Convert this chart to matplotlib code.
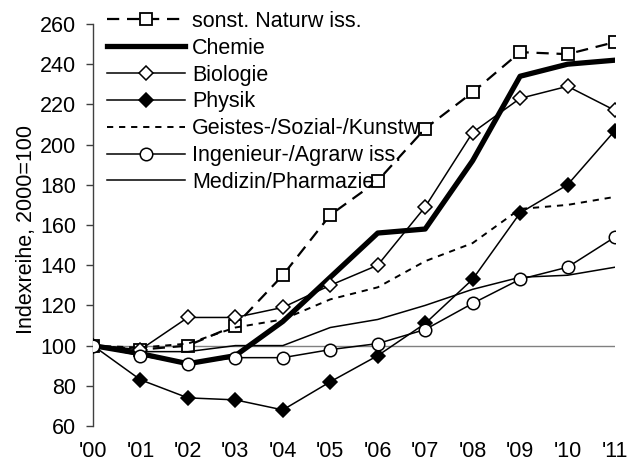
import matplotlib
matplotlib.use("Agg")
import matplotlib.pyplot as plt

years = ["'00", "'01", "'02", "'03", "'04", "'05", "'06", "'07", "'08", "'09", "'10", "'11"]
sonst = [100, 98, 100, 110, 135, 165, 182, 208, 226, 246, 245, 251]
chemie = [100, 96, 91, 95, 112, 134, 156, 158, 192, 234, 240, 242]
biologie = [100, 98, 114, 114, 119, 130, 140, 169, 206, 223, 229, 217]
physik = [100, 83, 74, 73, 68, 82, 95, 111, 133, 166, 180, 207]
geistes = [100, 99, 101, 109, 113, 123, 129, 142, 151, 168, 170, 174]
ingenieur = [100, 95, 91, 94, 94, 98, 101, 108, 121, 133, 139, 154]
medizin = [100, 97, 97, 100, 100, 109, 113, 120, 128, 134, 135, 139]
yticks = list(range(60, 261, 20))

plt.rcParams['font.family'] = ['Liberation Sans', 'DejaVu Sans']
fs = 15.5

fig = plt.figure(figsize=(6.31, 4.63), dpi=100)
ax = fig.add_axes([93/631, 1-426/463, (615-93)/631, (426-24)/463])
x = list(range(len(years)))

ax.axhline(100, color='#808080', lw=1.0, zorder=1)

ax.plot(x, sonst, color='black', lw=1.6, dashes=(5.5, 3.5), marker='s', ms=8.5,
        mfc='white', mec='black', mew=1.3, label='sonst. Naturw iss.', zorder=3)
ax.plot(x, chemie, color='black', lw=3.8, label='Chemie', zorder=4)
ax.plot(x, biologie, color='black', lw=1.1, marker='D', ms=7.5,
        mfc='white', mec='black', mew=1.1, label='Biologie', zorder=5)
ax.plot(x, physik, color='black', lw=1.1, marker='D', ms=7.5,
        mfc='black', mec='black', mew=1.1, label='Physik', zorder=5)
ax.plot(x, geistes, color='black', lw=1.4, dashes=(3.2, 3.0),
        label='Geistes-/Sozial-/Kunstw.', zorder=3)
ax.plot(x, ingenieur, color='black', lw=1.1, marker='o', ms=9,
        mfc='white', mec='black', mew=1.1, label='Ingenieur-/Agrarw iss.', zorder=5)
ax.plot(x, medizin, color='black', lw=1.1, label='Medizin/Pharmazie', zorder=3)

ax.set_xlim(0, 11)
ax.set_ylim(60, 260)
ax.set_yticks(yticks)
ax.set_yticklabels([str(v) for v in yticks], fontsize=fs)
ax.set_xticks(x)
ax.set_xticklabels(years, fontsize=fs)
for s in ['top', 'right', 'bottom']:
    ax.spines[s].set_visible(False)
ax.spines['left'].set_linewidth(1.0)
ax.spines['left'].set_color('#404040')
ax.tick_params(axis='y', direction='out', length=5, width=1, color='#404040', pad=7)
ax.tick_params(axis='x', length=0, pad=11)
ax.set_ylabel('Indexreihe, 2000=100', fontsize=fs)
ax.yaxis.set_label_coords(-0.107, 0.49)

leg = ax.legend(loc='upper left', bbox_to_anchor=(107/631, 1-11/463),
                bbox_transform=fig.transFigure, frameon=False, fontsize=fs,
                handlelength=3.6, handletextpad=0.35, labelspacing=0.27,
                borderpad=0, borderaxespad=0, numpoints=1)
leg.set_zorder(10)

fig.savefig('out.png', dpi=100)
